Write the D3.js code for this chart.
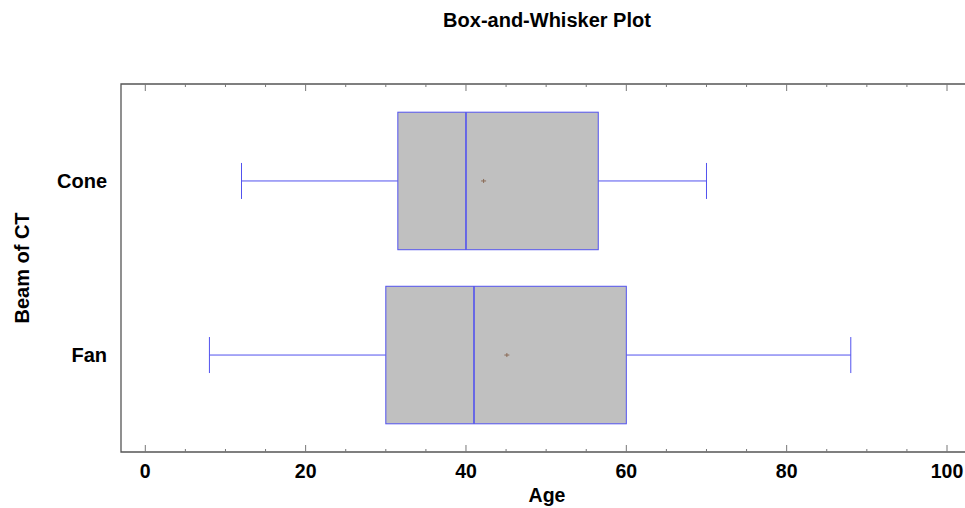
<!DOCTYPE html>
<html>
<head>
<meta charset="utf-8">
<script src="https://cdn.jsdelivr.net/npm/d3@7"></script>
<style>
  body { margin: 0; background: #fff; }
  svg { display: block; font-family: "Liberation Sans", Arial, sans-serif; }
</style>
</head>
<body>
<svg id="chart" width="965" height="508"></svg>
<script>
// data
const groups = ["Cone", "Fan"];
const whiskerLow = [12, 8];
const q1 = [31.5, 30];
const medians = [40, 41];
const q3 = [56.5, 60];
const whiskerHigh = [70, 88];
const means = [42.2, 45.1];
const xTicks = [0, 20, 40, 60, 80, 100];

const svg = d3.select("#chart");
const plotLeft = 121, plotRight = 972, plotTop = 84, plotBottom = 452;

const x = d3.scaleLinear().domain([0, 100]).range([145.3, 947]);
const y = d3.scalePoint().domain(groups).range([plotTop, plotBottom]).padding(0.557);
const boxH = y.step() * 0.79;
const capH = 36;
const blue = "#5252ee";

// title
svg.append("text")
  .attr("x", 547).attr("y", 27)
  .attr("text-anchor", "middle")
  .attr("font-size", 20).attr("font-weight", "bold")
  .text("Box-and-Whisker Plot");

// frame
svg.append("path")
  .attr("d", `M${plotRight},${plotTop}H${plotLeft}V${plotBottom}H${plotRight}`)
  .attr("fill", "none").attr("stroke", "#555").attr("stroke-width", 1.3);

// ticks top and bottom (major every 20, minor every 5)
const minor = d3.range(0, 101, 5);
minor.forEach(function(v) {
  const major = v % 20 === 0;
  const len = major ? 7 : 3;
  svg.append("line")
    .attr("x1", x(v)).attr("x2", x(v))
    .attr("y1", plotBottom).attr("y2", plotBottom - len)
    .attr("stroke", "#777").attr("stroke-width", 1);
  svg.append("line")
    .attr("x1", x(v)).attr("x2", x(v))
    .attr("y1", plotTop).attr("y2", plotTop + len)
    .attr("stroke", "#777").attr("stroke-width", 1);
});

// bottom tick labels
svg.selectAll(".xlab")
  .data(xTicks)
  .enter().append("text")
  .attr("x", function(d) { return x(d); })
  .attr("y", 478)
  .attr("text-anchor", "middle")
  .attr("font-size", 19.5).attr("font-weight", "bold")
  .text(function(d) { return d; });

svg.append("text")
  .attr("x", 547).attr("y", 502)
  .attr("text-anchor", "middle")
  .attr("font-size", 19.5).attr("font-weight", "bold")
  .text("Age");

// category labels
svg.selectAll(".ylab")
  .data(groups)
  .enter().append("text")
  .attr("x", 107)
  .attr("y", function(d) { return y(d); })
  .attr("dy", "0.35em")
  .attr("text-anchor", "end")
  .attr("font-size", 20).attr("font-weight", "bold")
  .text(function(d) { return d; });

svg.append("text")
  .attr("transform", "translate(29,268) rotate(-90)")
  .attr("text-anchor", "middle")
  .attr("font-size", 20).attr("font-weight", "bold")
  .text("Beam of CT");

// boxes
groups.forEach(function(g, i) {
  const cy = y(g);
  const gg = svg.append("g");
  // whiskers
  gg.append("line")
    .attr("x1", x(whiskerLow[i])).attr("x2", x(q1[i]))
    .attr("y1", cy).attr("y2", cy)
    .attr("stroke", blue).attr("stroke-width", 1);
  gg.append("line")
    .attr("x1", x(q3[i])).attr("x2", x(whiskerHigh[i]))
    .attr("y1", cy).attr("y2", cy)
    .attr("stroke", blue).attr("stroke-width", 1);
  [whiskerLow[i], whiskerHigh[i]].forEach(function(v) {
    gg.append("line")
      .attr("x1", x(v)).attr("x2", x(v))
      .attr("y1", cy - capH / 2).attr("y2", cy + capH / 2)
      .attr("stroke", blue).attr("stroke-width", 1);
  });
  // box
  gg.append("rect")
    .attr("x", x(q1[i])).attr("y", cy - boxH / 2)
    .attr("width", x(q3[i]) - x(q1[i])).attr("height", boxH)
    .attr("fill", "#c0c0c0").attr("stroke", blue).attr("stroke-width", 1);
  // median
  gg.append("line")
    .attr("x1", x(medians[i])).attr("x2", x(medians[i]))
    .attr("y1", cy - boxH / 2).attr("y2", cy + boxH / 2)
    .attr("stroke", blue).attr("stroke-width", 1.6);
  // mean marker
  const mx = x(means[i]);
  gg.append("path")
    .attr("d", `M${mx - 2.5},${cy}H${mx + 2.5}M${mx},${cy - 2}V${cy + 2}`)
    .attr("stroke", "#8a6a55").attr("stroke-width", 1);
});
</script>
</body>
</html>
